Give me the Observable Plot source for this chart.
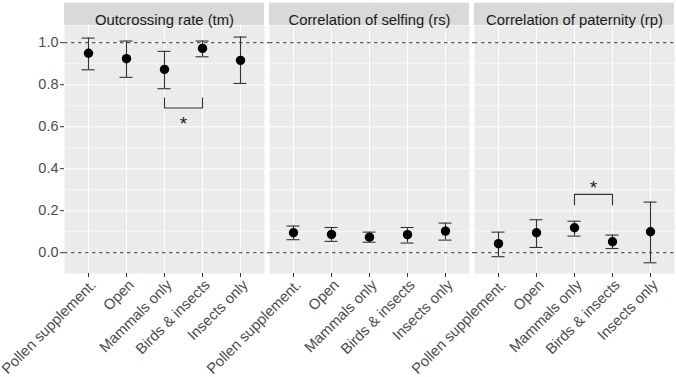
<!DOCTYPE html>
<html>
<head>
<meta charset="utf-8">
<script src="https://cdn.jsdelivr.net/npm/d3@7"></script>
<script src="https://cdn.jsdelivr.net/npm/@observablehq/plot@0.6"></script>
<style>
  html, body { margin: 0; padding: 0; background: #fff; }
  #chart svg { display: block; }
</style>
</head>
<body>
<div id="chart"></div>
<script>
// Pollination treatments (x categories) and the three mating-system measures (panels)
const treatments = ["Pollen supplement.", "Open", "Mammals only", "Birds & insects", "Insects only"];
const measures = ["Outcrossing rate (tm)", "Correlation of selfing (rs)", "Correlation of paternity (rp)"];

// Estimates with lower / upper error-bar limits, one array per measure
const tmMean  = [0.950, 0.924, 0.873, 0.973, 0.916];
const tmLower = [0.871, 0.835, 0.781, 0.933, 0.806];
const tmUpper = [1.022, 1.008, 0.959, 1.008, 1.027];

const rsMean  = [0.095, 0.087, 0.074, 0.086, 0.103];
const rsLower = [0.062, 0.054, 0.050, 0.046, 0.060];
const rsUpper = [0.127, 0.120, 0.098, 0.120, 0.141];

const rpMean  = [0.043, 0.095, 0.119, 0.052, 0.100];
const rpLower = [-0.019, 0.025, 0.079, 0.020, -0.048];
const rpUpper = [0.098, 0.157, 0.150, 0.084, 0.241];

// Significance brackets: panel, compared treatments, bar level, arm tips, star level
const sigMeasure = ["Outcrossing rate (tm)", "Correlation of paternity (rp)"];
const sigFrom    = ["Mammals only", "Mammals only"];
const sigTo      = ["Birds & insects", "Birds & insects"];
const sigBar     = [0.689, 0.278];
const sigTip     = [0.738, 0.227];
const sigStar    = [0.640, 0.336];
const sigLabel   = ["*", "*"];

// Axis ticks and reference lines
const yTicks = [0, 0.2, 0.4, 0.6, 0.8, 1.0];
const yMinor = [0.1, 0.3, 0.5, 0.7, 0.9];
const refLines = [0, 1];

const rows = [];
[[tmMean, tmLower, tmUpper], [rsMean, rsLower, rsUpper], [rpMean, rpLower, rpUpper]].forEach(([m, lo, hi], k) => {
  treatments.forEach((t, i) => rows.push({measure: measures[k], treatment: t, mean: m[i], lower: lo[i], upper: hi[i]}));
});

const bracketPts = [];
const stars = [];
sigMeasure.forEach((m, k) => {
  bracketPts.push({id: k, measure: m, treatment: sigFrom[k], v: sigTip[k]});
  bracketPts.push({id: k, measure: m, treatment: sigFrom[k], v: sigBar[k]});
  bracketPts.push({id: k, measure: m, treatment: sigTo[k], v: sigBar[k]});
  bracketPts.push({id: k, measure: m, treatment: sigTo[k], v: sigTip[k]});
  stars.push({measure: m, treatment: sigFrom[k], v: sigStar[k], label: sigLabel[k]});
});

const FONT = "'Liberation Sans', Arial, sans-serif";
const AXIS_GREY = "#4d4d4d";
const LINE = "#333333";
const CAP = 13; // error-bar cap width in px

function makeChart(starDx, capInset) {
  return Plot.plot({
    width: 676,
    height: 377,
    marginLeft: 64,
    marginRight: 2,
    marginTop: 25,
    marginBottom: 104,
    style: {fontFamily: FONT, fontSize: "14.5px", background: "white", overflow: "visible"},
    fx: {domain: measures, paddingInner: 0.0244, paddingOuter: 0, label: null},
    x: {type: "band", domain: treatments, paddingInner: 0, paddingOuter: 0.1, label: null},
    y: {domain: [-0.099, 1.082], label: null},
    marks: [
      Plot.frame({fill: "#ebebeb", stroke: null}),
      Plot.gridY(yMinor, {stroke: "white", strokeOpacity: 1, strokeWidth: 0.6}),
      Plot.gridY(yTicks, {stroke: "white", strokeOpacity: 1, strokeWidth: 1.1}),
      Plot.gridX({stroke: "white", strokeOpacity: 1, strokeWidth: 1.1}),
      Plot.axisY(yTicks, {tickFormat: d3.format(".1f"), tickSize: 4, tickPadding: 2, stroke: LINE, fill: AXIS_GREY, fontSize: 14.5, label: null}),
      // x tick marks and the slanted treatment names are drawn separately
      Plot.axisX({tickSize: 4, stroke: LINE, fill: "none", label: null}),
      Plot.axisX({tickSize: 0, tickPadding: 6, tickRotate: -45, fill: AXIS_GREY, fontSize: 14.8, label: null, dx: 5, dy: 3}),
      Plot.axisFx({anchor: "top", tickSize: 0, tickPadding: 0, fill: "#1a1a1a", fontSize: 14.8, label: null, dy: -1}),
      // dashed references run on through the narrow gaps between panels
      Plot.ruleY(refLines, {stroke: LINE, strokeWidth: 1, strokeDasharray: "3.5,3.5", insetRight: -5}),
      Plot.ruleX(rows, {fx: "measure", x: "treatment", y1: "lower", y2: "upper", stroke: LINE, strokeWidth: 1.1}),
      Plot.tickY(rows, {fx: "measure", x: "treatment", y: "lower", insetLeft: capInset, insetRight: capInset, stroke: LINE, strokeWidth: 1.1}),
      Plot.tickY(rows, {fx: "measure", x: "treatment", y: "upper", insetLeft: capInset, insetRight: capInset, stroke: LINE, strokeWidth: 1.1}),
      Plot.dot(rows, {fx: "measure", x: "treatment", y: "mean", r: 4.7, fill: "black", stroke: "none"}),
      Plot.line(bracketPts, {fx: "measure", x: "treatment", y: "v", z: "id", stroke: LINE, strokeWidth: 1.1, curve: "linear"}),
      Plot.text(stars, {fx: "measure", x: "treatment", y: "v", text: "label", dx: starDx, dy: 5.5, fontSize: 19, fill: "#1a1a1a"})
    ]
  });
}

// Half the spacing between neighbouring treatments centres the star over its bracket
const probe = makeChart(0, 0);
const xs = probe.scale("x");
const half = (xs.apply(sigTo[0]) - xs.apply(sigFrom[0])) / 2;
const chart = makeChart(half, (xs.bandwidth - CAP) / 2);

// Grey strip behind each panel title
const fx = chart.scale("fx");
const first = chart.querySelector("g, rect, path, text");
measures.forEach(m => {
  const r = document.createElementNS("http://www.w3.org/2000/svg", "rect");
  r.setAttribute("x", fx.apply(m));
  r.setAttribute("y", 2.7);
  r.setAttribute("width", fx.bandwidth);
  r.setAttribute("height", 25 - 2.7);
  r.setAttribute("fill", "#d9d9d9");
  chart.insertBefore(r, first);
});

document.getElementById("chart").appendChild(chart);
</script>
</body>
</html>
